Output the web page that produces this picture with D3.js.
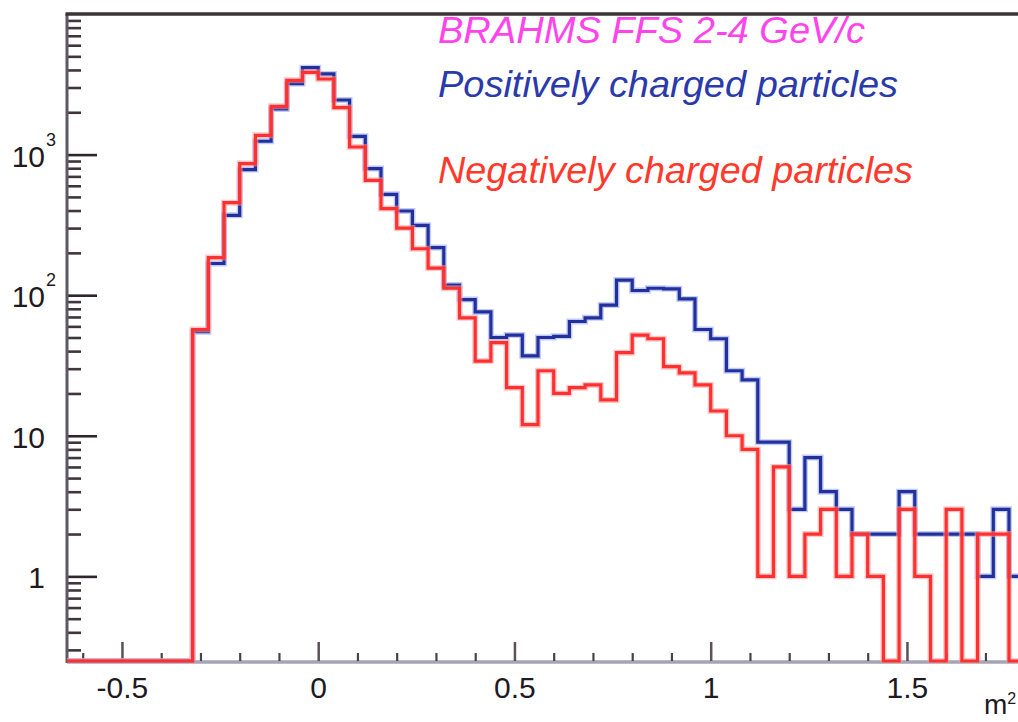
<!DOCTYPE html>
<html>
<head>
<meta charset="utf-8">
<script src="https://cdn.jsdelivr.net/npm/d3@7"></script>
<style>
  html, body { margin: 0; padding: 0; background: #fff; }
  svg { display: block; }
  text { font-family: "Liberation Sans", Arial, Helvetica, sans-serif; }
</style>
</head>
<body>
<svg id="chart" width="1018" height="722"></svg>
<script>
// Histogram binning (m^2, GeV^2)
var BIN_START = -0.64;
var BIN_WIDTH = 0.04;

// Counts per bin, starting at -0.64
var positiveCounts = [0, 0, 0, 0, 0, 0, 0, 0,
  55, 168, 370, 782, 1244, 2110, 3200, 4150, 3750, 2445,
  1349, 795, 522, 397, 314, 218, 118, 93, 76, 50,
  52, 37, 50, 51, 65, 69, 85, 128, 108, 112,
  111, 94, 57, 49, 29, 25, 9, 9, 3, 7,
  4, 3, 2, 2, 2, 4, 2, 2, 2, 2,
  1, 3, 1];

var negativeCounts = [0, 0, 0, 0, 0, 0, 0, 0,
  57, 185, 455, 863, 1371, 2206, 3376, 3850, 3450, 2160,
  1132, 656, 413, 300, 214, 156, 112, 69, 34, 46,
  22, 12, 29, 20, 22, 23, 18, 39, 52, 49,
  31, 28, 23, 15, 10, 8, 1, 6, 1, 2,
  3, 1, 2, 1, 0, 3, 1, 0, 3, 0,
  2, 2, 0];

var xMajorTicks = [-0.5, 0, 0.5, 1, 1.5];
var xMajorLabels = ["-0.5", "0", "0.5", "1", "1.5"];
var yMajorTicks = [1, 10, 100, 1000];
var yMajorBase = ["1", "10", "10", "10"];
var yMajorExp = ["", "", "2", "3"];

var legendTitle = "BRAHMS FFS 2-4 GeV/c";
var legendPositive = "Positively charged particles";
var legendNegative = "Negatively charged particles";

var PLOT_LEFT = 67;
var PLOT_TOP = 14;
var PLOT_BOTTOM = 661;
var PX_PER_UNIT = 392.5;

var svg = d3.select("#chart");

var xScale = d3.scaleLinear()
    .domain([BIN_START, 1.8])
    .range([PLOT_LEFT, PLOT_LEFT + (1.8 - BIN_START) * PX_PER_UNIT]);

var yScale = d3.scaleLog()
    .domain([0.25, 10000])
    .range([PLOT_BOTTOM, PLOT_TOP]);

function yPos(v) {
  return v > 0 ? yScale(v) : PLOT_BOTTOM;
}

// outline points of a ROOT-like step histogram
function stepPoints(counts) {
  var pts = [];
  counts.forEach(function (c, i) {
    var lo = BIN_START + i * BIN_WIDTH;
    pts.push([xScale(lo), yPos(c)]);
    pts.push([xScale(lo + BIN_WIDTH), yPos(c)]);
  });
  return pts;
}

svg.append("defs").append("clipPath").attr("id", "plotClip")
  .append("rect")
  .attr("x", PLOT_LEFT).attr("y", PLOT_TOP - 2)
  .attr("width", 1018 - PLOT_LEFT).attr("height", PLOT_BOTTOM - PLOT_TOP + 4);

// ##### Axes #####

// bottom axis line
svg.append("line")
  .attr("x1", PLOT_LEFT).attr("x2", 1018)
  .attr("y1", PLOT_BOTTOM + 1).attr("y2", PLOT_BOTTOM + 1)
  .attr("stroke", "#a4a4b6").attr("stroke-width", 3.5);

var xMinor = d3.range(-6, 18).map(function (k) { return k / 10; })
  .filter(function (v) { return xMajorTicks.indexOf(v) < 0; });

var xMinorAxis = d3.axisTop(xScale).tickValues(xMinor).tickSize(8).tickFormat("");
svg.append("g").attr("transform", "translate(0," + PLOT_BOTTOM + ")")
  .call(xMinorAxis)
  .call(function (g) { g.select(".domain").remove(); })
  .selectAll("line").attr("stroke", "#4a4248").attr("stroke-width", 2.2);

var xMajorAxis = d3.axisBottom(xScale)
  .tickValues(xMajorTicks)
  .tickSize(-19)
  .tickPadding(16)
  .tickFormat(function (d, i) { return xMajorLabels[i]; });
var xg = svg.append("g").attr("transform", "translate(0," + PLOT_BOTTOM + ")")
  .call(xMajorAxis);
xg.select(".domain").remove();
xg.selectAll("line").attr("stroke", "#5a5258").attr("stroke-width", 2.5);
xg.selectAll("text")
  .attr("fill", "#1e1a1e")
  .style("font-size", "30px");

// y minor ticks (2..9 of every decade)
var yMinor = [];
[0.1, 1, 10, 100, 1000].forEach(function (dec) {
  for (var m = 2; m <= 9; m++) {
    var v = dec * m;
    if (v >= 0.25 && v < 10000) yMinor.push(v);
  }
});

var yMinorAxis = d3.axisRight(yScale).tickValues(yMinor).tickSize(14).tickFormat("");
svg.append("g").attr("transform", "translate(" + PLOT_LEFT + ",0)")
  .call(yMinorAxis)
  .call(function (g) { g.select(".domain").remove(); })
  .selectAll("line").attr("stroke", "#3e363c").attr("stroke-width", 2.6);

var yMajorAxis = d3.axisRight(yScale).tickValues(yMajorTicks).tickSize(30).tickFormat("");
svg.append("g").attr("transform", "translate(" + PLOT_LEFT + ",0)")
  .call(yMajorAxis)
  .call(function (g) { g.select(".domain").remove(); })
  .selectAll("line").attr("stroke", "#2e262c").attr("stroke-width", 2.6);

// y labels with exponents
var yLabels = svg.append("g").attr("class", "y-labels");
yMajorTicks.forEach(function (v, i) {
  var ty = yScale(v);
  yLabels.append("text")
    .attr("x", 45).attr("y", ty + 12)
    .attr("text-anchor", "end")
    .attr("fill", "#1e1a1e")
    .style("font-size", "30px")
    .text(yMajorBase[i]);
  if (yMajorExp[i]) {
    yLabels.append("text")
      .attr("x", 46).attr("y", ty - 9)
      .attr("fill", "#1e1a1e")
      .style("font-size", "18px")
      .text(yMajorExp[i]);
  }
});

// left axis and top frame
svg.append("line")
  .attr("x1", PLOT_LEFT).attr("x2", PLOT_LEFT)
  .attr("y1", PLOT_TOP).attr("y2", PLOT_BOTTOM + 2)
  .attr("stroke", "#5e5864").attr("stroke-width", 3);
svg.append("line")
  .attr("x1", PLOT_LEFT - 1.5).attr("x2", 1018)
  .attr("y1", PLOT_TOP).attr("y2", PLOT_TOP)
  .attr("stroke", "#3a3236").attr("stroke-width", 3.5);

// ##### Histograms #####

var line = d3.line();
var hists = svg.append("g").attr("clip-path", "url(#plotClip)");

function drawHist(counts, halo, core) {
  var pts = stepPoints(counts);
  hists.append("path").attr("d", line(pts))
    .attr("fill", "none").attr("stroke", halo)
    .attr("stroke-width", 6).attr("stroke-opacity", 0.55)
    .attr("stroke-linejoin", "miter");
  hists.append("path").attr("d", line(pts))
    .attr("fill", "none").attr("stroke", core)
    .attr("stroke-width", 3.2)
    .attr("stroke-linejoin", "miter");
}

drawHist(positiveCounts, "#8f9fee", "#22309c");
drawHist(negativeCounts, "#ff9a9a", "#ff3030");

// ##### Legend #####

svg.append("text")
  .attr("x", 438).attr("y", 43)
  .attr("fill", "#ff44ec")
  .style("font-size", "37px").style("font-style", "italic")
  .attr("textLength", 427).attr("lengthAdjust", "spacingAndGlyphs")
  .text(legendTitle);

svg.append("text")
  .attr("x", 438).attr("y", 97)
  .attr("fill", "#2a3aaa")
  .style("font-size", "37px").style("font-style", "italic")
  .attr("textLength", 460).attr("lengthAdjust", "spacingAndGlyphs")
  .text(legendPositive);

svg.append("text")
  .attr("x", 438).attr("y", 183)
  .attr("fill", "#ff3a2c")
  .style("font-size", "37px").style("font-style", "italic")
  .attr("textLength", 475).attr("lengthAdjust", "spacingAndGlyphs")
  .text(legendNegative);

// x axis title (kept inside the picture)
var xt = svg.append("text")
  .attr("x", 984).attr("y", 714)
  .attr("fill", "#1e1a1e")
  .style("font-size", "28px");
xt.append("tspan").text("m");
xt.append("tspan").attr("dy", -10).style("font-size", "16px").text("2");
</script>
</body>
</html>
